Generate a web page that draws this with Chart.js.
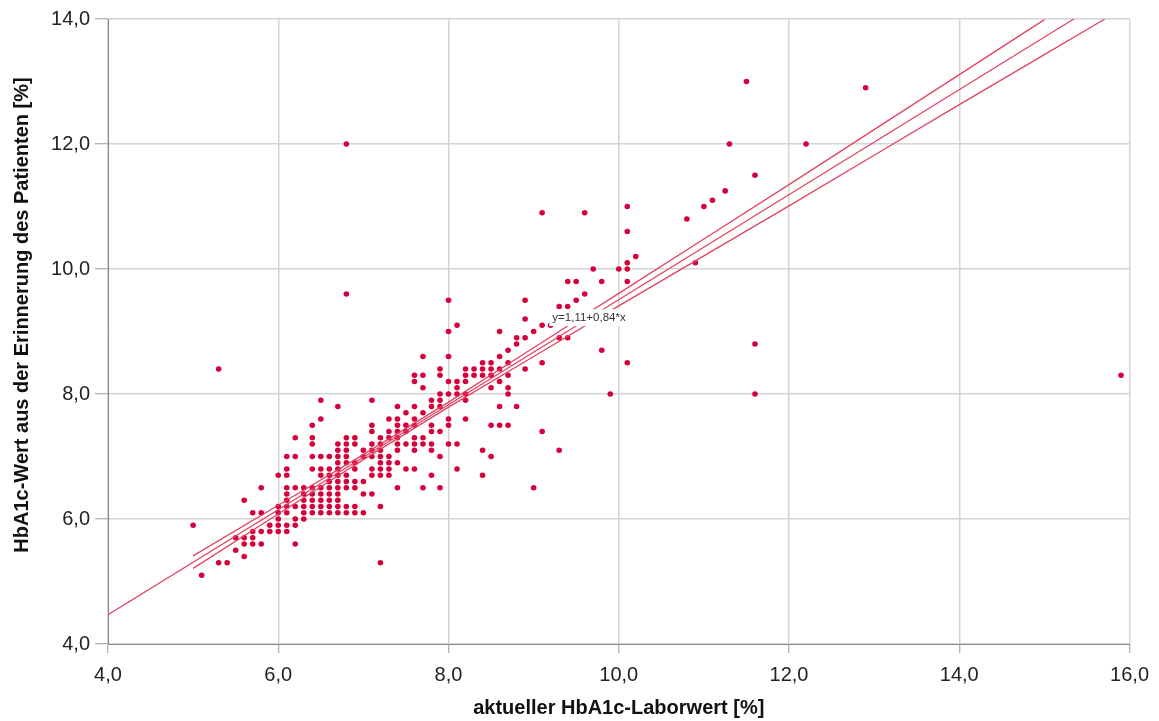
<!DOCTYPE html>
<html lang="de">
<head>
<meta charset="utf-8">
<title>HbA1c Laborwert vs. Erinnerung</title>
<script src="https://cdn.jsdelivr.net/npm/chart.js@4/dist/chart.umd.min.js"></script>
<style>
  html, body { margin: 0; padding: 0; background: #fff; }
  #wrap { width: 1159px; height: 721px; }
</style>
</head>
<body>
<div id="wrap"><canvas id="streuung" width="1159" height="721"></canvas></div>
<script>
// Laborwert-Spalten (x) und die zugehörigen erinnerten Werte (y)
const laborwerte = [
  5.0, 5.1, 5.3, 5.4, 5.5, 5.6, 5.7, 5.8, 5.9, 6.0,
  6.1, 6.2, 6.3, 6.4, 6.5, 6.6, 6.7, 6.8, 6.9, 7.0,
  7.1, 7.2, 7.3, 7.4, 7.5, 7.6, 7.7, 7.8, 7.9, 8.0,
  8.1, 8.2, 8.3, 8.4, 8.5, 8.6, 8.7, 8.8, 8.9, 9.0,
  9.1, 9.2, 9.3, 9.4, 9.5, 9.6, 9.7, 9.8, 9.9, 10.0,
  10.1, 10.2, 10.8, 10.9, 11.0, 11.1, 11.25, 11.3, 11.5, 11.6,
  12.2, 12.9, 15.9
];
const erinnerung = [
  [5.9], [5.1], [8.4, 5.3], [5.3], [5.7, 5.5], [6.3, 5.7, 5.6, 5.4], [6.1, 5.8, 5.7, 5.6], [6.5, 6.1, 5.8, 5.6], [5.9, 5.8], [6.7, 6.2, 6.1, 6.0, 5.9, 5.8],
  [7.0, 6.8, 6.7, 6.5, 6.4, 6.3, 6.2, 6.1, 5.9, 5.8],
  [7.3, 7.0, 6.5, 6.2, 6.0, 5.9, 5.6],
  [6.5, 6.4, 6.3, 6.2, 6.1, 6.0],
  [7.5, 7.3, 7.2, 7.0, 6.8, 6.5, 6.4, 6.3, 6.2, 6.1],
  [7.9, 7.6, 7.0, 6.8, 6.7, 6.5, 6.4, 6.3, 6.2, 6.1],
  [7.0, 6.8, 6.7, 6.6, 6.5, 6.4, 6.3, 6.2, 6.1],
  [7.8, 7.2, 7.1, 7.0, 6.9, 6.8, 6.7, 6.6, 6.5, 6.4, 6.3, 6.2, 6.1],
  [12.0, 9.6, 7.3, 7.2, 7.1, 7.0, 6.9, 6.7, 6.6, 6.5, 6.2, 6.1],
  [7.3, 7.2, 6.9, 6.8, 6.6, 6.5, 6.2, 6.1],
  [7.1, 7.0, 6.6, 6.4, 6.1],
  [7.9, 7.5, 7.4, 7.2, 7.1, 7.0, 6.8, 6.7, 6.4],
  [7.3, 7.2, 7.1, 7.0, 6.9, 6.8, 6.7, 6.2, 5.3],
  [7.6, 7.4, 7.3, 7.0, 6.9, 6.8, 6.7],
  [7.8, 7.6, 7.5, 7.4, 7.3, 7.2, 7.1, 6.9, 6.5],
  [7.7, 7.5, 7.4, 7.2, 6.8],
  [8.3, 8.2, 7.8, 7.6, 7.5, 7.3, 7.2, 7.1, 6.8],
  [8.6, 8.3, 8.1, 7.7, 7.3, 7.2, 6.5],
  [7.9, 7.8, 7.5, 7.4, 7.2, 7.1, 6.7],
  [8.4, 8.3, 8.0, 7.9, 7.8, 7.4, 7.0, 6.5],
  [9.5, 9.0, 8.6, 8.2, 8.0, 7.6, 7.5, 7.2],
  [9.1, 8.2, 8.1, 8.0, 7.2, 6.8],
  [8.4, 8.3, 8.2, 8.0, 7.9, 7.6],
  [8.4, 8.3],
  [8.5, 8.4, 8.3, 7.1, 6.7],
  [8.5, 8.4, 8.3, 8.1, 7.5, 7.0],
  [9.0, 8.6, 8.4, 8.2, 7.8, 7.5],
  [8.7, 8.5, 8.3, 8.1, 8.0, 7.5],
  [8.9, 8.8, 7.8],
  [9.5, 9.2, 8.9, 8.4],
  [9.0, 6.5],
  [10.9, 9.1, 8.5, 7.4],
  [9.1],
  [9.4, 8.9, 7.1],
  [9.8, 9.4, 8.9],
  [9.8, 9.5],
  [10.9, 9.6],
  [10.0],
  [9.8, 8.7],
  [8.0],
  [10.0],
  [11.0, 10.6, 10.1, 10.0, 9.8, 8.5],
  [10.2], [10.8], [10.1], [11.0], [11.1], [11.25], [12.0], [13.0], [11.5, 8.8, 8.0],
  [12.0], [12.9], [8.3]
];

// Regressionsgerade laut Beschriftung
const achsenabschnitt = 1.11;
const steigung = 0.84;
const geradeX = [4.0, 15.345];

const bandX      = [5.0, 6.0, 7.0, 8.0, 9.0, 10.0, 11.0, 12.0, 13.0, 14.0, 15.0];
const bandOben   = [5.41, 6.22, 7.03, 7.87, 8.74, 9.61, 10.48, 11.35, 12.23, 13.11, 13.99];
const bandUntenX = [5.0, 6.0, 7.0, 8.0, 9.0, 10.0, 11.0, 12.0, 13.0, 14.0, 15.0, 15.71];
const bandUnten  = [5.21, 6.08, 6.95, 7.79, 8.60, 9.41, 10.21, 11.01, 11.82, 12.63, 13.43, 14.0];

const xTicks = [4, 6, 8, 10, 12, 14, 16];
const yTicks = [4, 6, 8, 10, 12, 14];

const punkte = [];
laborwerte.forEach((x, i) => {
  erinnerung[i].forEach(y => punkte.push({ x: x, y: y }));
});

const gerade = geradeX.map(x => ({ x: x, y: achsenabschnitt + steigung * x }));
const oben = bandX.map((x, i) => ({ x: x, y: bandOben[i] }));
const unten = bandUntenX.map((x, i) => ({ x: x, y: bandUnten[i] }));

const rot = '#d6003a';
const linienRot = '#e2405f';
const schrift = '"Liberation Sans", Arial, sans-serif';
const komma = (v, n) => v.toFixed(n).replace('.', ',');

// Gleichung mit weißem Hintergrund und y-Achsentitel
const beschriftung = {
  id: 'beschriftung',
  afterDatasetsDraw(chart) {
    const { ctx, scales } = chart;
    const text = 'y=' + komma(achsenabschnitt, 2) + '+' + komma(steigung, 2) + '*x';
    ctx.save();
    ctx.font = '11.5px ' + schrift;
    const px = scales.x.getPixelForValue(9.22);
    const py = scales.y.getPixelForValue(9.23);
    const w = ctx.measureText(text).width;
    ctx.fillStyle = '#ffffff';
    ctx.fillRect(px - 3, py - 8, w + 6, 17);
    ctx.fillStyle = '#333333';
    ctx.textBaseline = 'middle';
    ctx.fillText(text, px, py + 1);
    ctx.restore();
  },
  afterDraw(chart) {
    const { ctx } = chart;
    ctx.save();
    ctx.translate(22, 315);
    ctx.rotate(-Math.PI / 2);
    ctx.font = 'bold 20px ' + schrift;
    ctx.fillStyle = '#111111';
    ctx.textAlign = 'center';
    ctx.textBaseline = 'middle';
    ctx.fillText('HbA1c-Wert aus der Erinnerung des Patienten [%]', 0, 0);
    ctx.restore();
  }
};

const linie = (daten) => ({
  type: 'line',
  data: daten,
  borderColor: linienRot,
  borderWidth: 1.2,
  pointRadius: 0,
  fill: false,
  tension: 0,
  order: 0
});

new Chart(document.getElementById('streuung'), {
  type: 'scatter',
  data: {
    datasets: [
      linie(gerade),
      linie(oben),
      linie(unten),
      {
        data: punkte,
        backgroundColor: rot,
        borderWidth: 0,
        pointRadius: 2.8,
        order: 1
      }
    ]
  },
  options: {
    responsive: false,
    animation: false,
    layout: { padding: { top: 19, right: 28, left: 0, bottom: 0 } },
    plugins: { legend: { display: false }, tooltip: { enabled: false } },
    scales: {
      x: {
        type: 'linear',
        min: 4, max: 16,
        afterFit: s => { s.height = 77; },
        afterBuildTicks: s => { s.ticks = xTicks.map(v => ({ value: v })); },
        grid: { color: '#d4d4d4', lineWidth: 1.5, tickColor: '#9a9a9a', tickLength: 9, tickWidth: 1 },
        border: { color: '#8a8a8a', width: 1 },
        ticks: {
          padding: 10,
          color: '#222',
          font: { family: schrift, size: 20 },
          callback: v => komma(v, 1)
        },
        title: {
          display: true,
          text: 'aktueller HbA1c-Laborwert [%]',
          color: '#111',
          font: { family: schrift, size: 20, weight: 'bold' },
          padding: { bottom: 1, top: 0 }
        }
      },
      y: {
        type: 'linear',
        min: 4, max: 14,
        afterFit: s => { s.width = 108; },
        afterBuildTicks: s => { s.ticks = yTicks.map(v => ({ value: v })); },
        grid: { color: '#d4d4d4', lineWidth: 1.5, tickColor: '#9a9a9a', tickLength: 13, tickWidth: 1 },
        border: { color: '#8a8a8a', width: 1 },
        ticks: {
          padding: 5,
          color: '#222',
          font: { family: schrift, size: 20 },
          callback: v => komma(v, 1)
        }
      }
    }
  },
  plugins: [beschriftung]
});
</script>
</body>
</html>
